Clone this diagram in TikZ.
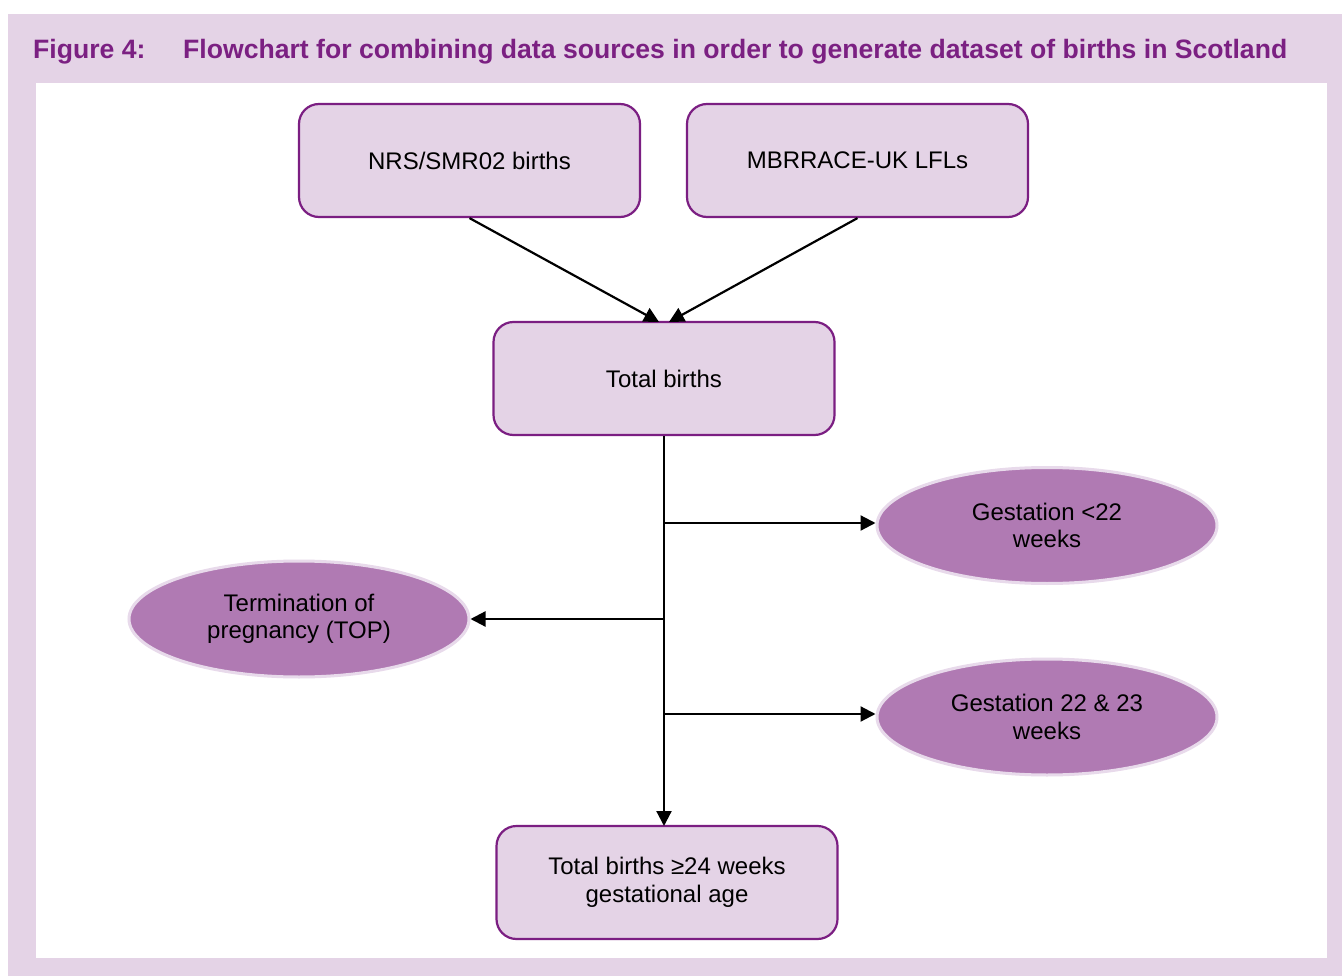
\documentclass[tikz,border=0pt]{standalone}
\usepackage{fontspec}
\setmainfont{Liberation Sans}
\usetikzlibrary{arrows.meta,shapes.geometric}
\definecolor{lilac}{HTML}{E4D3E6}
\definecolor{plum}{HTML}{7B1E82}
\definecolor{oval}{HTML}{B07AB3}
\definecolor{ovalrim}{HTML}{E8DAEB}
\definecolor{titlec}{HTML}{7B2082}
\begin{document}
\begin{tikzpicture}[x=1pt,y=-1pt,
  boxnode/.style={draw=plum,line width=2.2pt,fill=lilac,rounded corners=20pt,
    minimum width=341pt,minimum height=113pt,align=center,inner sep=0pt,
    font=\fontsize{24}{27.5}\selectfont},
  ovalnode/.style={ellipse,draw=ovalrim,line width=3pt,fill=oval,
    minimum width=340pt,minimum height=116pt,align=center,inner sep=0pt,
    font=\fontsize{24}{27.5}\selectfont},
  titletext/.style={anchor=base west,inner sep=0pt,text=titlec,font=\fontsize{26.6}{30}\selectfont\bfseries},
  arr/.style={line width=2.2pt,-{Triangle[length=15pt,width=15pt]}}]
\useasboundingbox (0,0) rectangle (1342,976);
\fill[white] (0,0) rectangle (1342,976);
\fill[lilac] (8,14) rectangle (1342,976);
\fill[white] (36,83) rectangle (1327,958);
\node[titletext] (fig) at (33,59) {Figure 4:};
\node[titletext] (title) at (183,59) {Flowchart for combining data sources in order to generate dataset of births in Scotland};
\node[boxnode] (nrs) at (469.5,160.5) {NRS/SMR02 births};
\node[boxnode] (mbr) at (857.5,160.5) {MBRRACE-UK LFLs};
\node[boxnode] (tb) at (664,378.5) {Total births};
\node[boxnode] (tb24) at (667,882.5) {Total births ≥24 weeks\\gestational age};
\node[ovalnode] (g22) at (1047,525.5) {Gestation <22\\weeks};
\node[ovalnode] (top) at (299,619) {Termination of\\pregnancy (TOP)};
\node[ovalnode] (g2223) at (1047,717) {Gestation 22 \& 23\\weeks};
\coordinate (tbl) at (659,322);
\coordinate (tbr) at (669,322);
\coordinate (vend) at (664,826);
\coordinate (g22in) at ([yshift=2.5pt]g22.west);
\coordinate (g2223in) at ([yshift=3pt]g2223.west);
\draw[arr] (nrs.south) -- (tbl);
\draw[arr] (mbr.south) -- (tbr);
\draw[arr] (tb.south) -- (vend);
\draw[arr] (tb.south |- g22in) -- (g22in);
\draw[arr] (tb.south |- top.east) -- (top.east);
\draw[arr] (tb.south |- g2223in) -- (g2223in);
\end{tikzpicture}
\end{document}
